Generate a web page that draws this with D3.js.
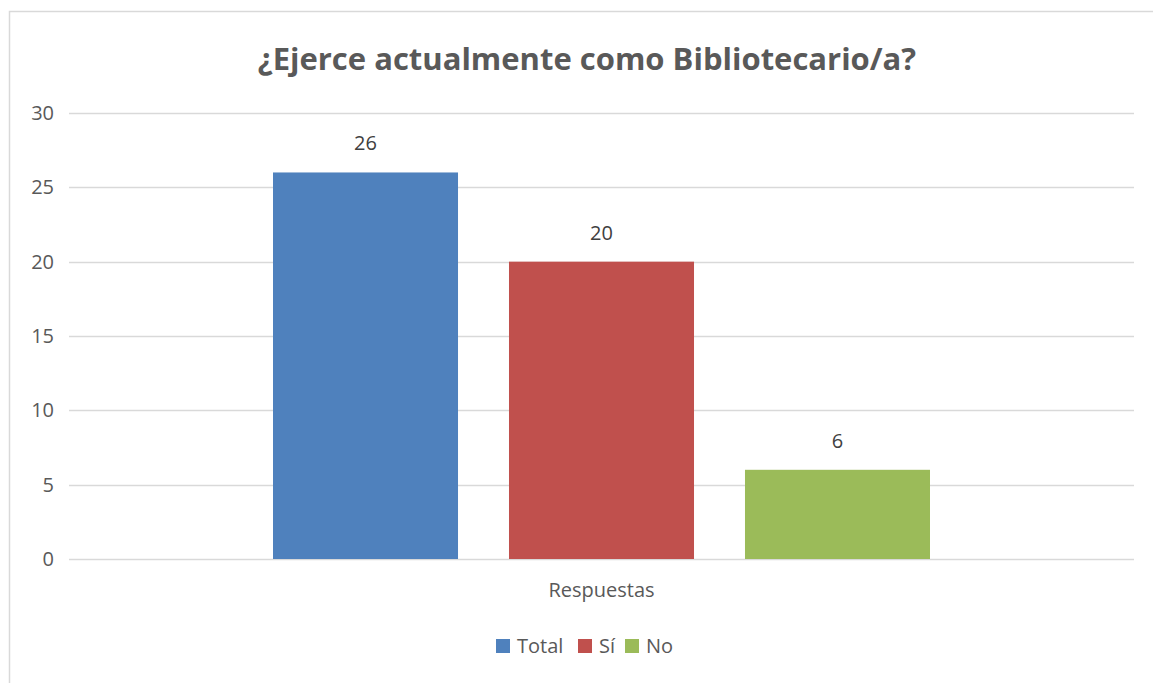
<!DOCTYPE html>
<html>
<head>
<meta charset="utf-8">
<script src="https://cdn.jsdelivr.net/npm/d3@7"></script>
<style>
  body { margin: 0; background: #fff; }
  svg { font-family: "Open Sans", "Noto Sans", sans-serif; }
</style>
</head>
<body>
<svg id="chart"></svg>
<script>
var categories = ["Respuestas"];
var seriesNames = ["Total", "Sí", "No"];
var seriesValues = [26, 20, 6];
var seriesColors = ["#4f81bd", "#c0504d", "#9bbb59"];
var yTicks = [0, 5, 10, 15, 20, 25, 30];

var width = 1153, height = 683;
var margin = { left: 69, right: 19, top: 113, bottom: 124 };

var svg = d3.select("#chart")
    .attr("width", width)
    .attr("height", height);

// chart frame
svg.append("rect")
    .attr("x", 9.5).attr("y", 11.5)
    .attr("width", 1160).attr("height", 700)
    .attr("fill", "none")
    .attr("stroke", "#d9d9d9")
    .attr("stroke-width", 1.5);

svg.append("text")
    .attr("x", 587).attr("y", 70)
    .attr("text-anchor", "middle")
    .attr("font-size", 31)
    .attr("font-weight", "bold")
    .attr("fill", "#595959")
    .text("¿Ejerce actualmente como Bibliotecario/a?");

var y = d3.scaleLinear()
    .domain([0, 30])
    .range([height - margin.bottom, margin.top]);

var x0 = d3.scaleBand()
    .domain(categories)
    .range([margin.left, width - margin.right])
    .paddingInner(0)
    .paddingOuter(0.3105);

var x1 = d3.scaleBand()
    .domain(seriesNames)
    .range([0, x0.bandwidth()])
    .paddingInner(0.216)
    .paddingOuter(0);

// gridlines
svg.append("g")
  .selectAll("line")
  .data(yTicks)
  .enter().append("line")
    .attr("x1", margin.left)
    .attr("x2", width - margin.right)
    .attr("y1", function(d) { return Math.round(y(d)) + 0.5; })
    .attr("y2", function(d) { return Math.round(y(d)) + 0.5; })
    .attr("stroke", "#d9d9d9")
    .attr("stroke-width", 1.5);

// y axis labels
svg.append("g")
  .selectAll("text")
  .data(yTicks)
  .enter().append("text")
    .attr("x", 54)
    .attr("y", function(d) { return y(d); })
    .attr("dy", "0.35em")
    .attr("text-anchor", "end")
    .attr("font-size", 20)
    .attr("fill", "#595959")
    .text(function(d) { return d; });

var group = svg.selectAll(".cat")
    .data(categories)
  .enter().append("g")
    .attr("class", "cat")
    .attr("transform", function(d) { return "translate(" + x0(d) + ",0)"; });

group.selectAll("rect")
    .data(seriesNames.map(function(s, i) { return { name: s, value: seriesValues[i], color: seriesColors[i] }; }))
  .enter().append("rect")
    .attr("x", function(d) { return x1(d.name); })
    .attr("y", function(d) { return y(d.value); })
    .attr("width", x1.bandwidth())
    .attr("height", function(d) { return y(0) - y(d.value); })
    .attr("fill", function(d) { return d.color; });

group.selectAll(".lbl")
    .data(seriesNames.map(function(s, i) { return { name: s, value: seriesValues[i] }; }))
  .enter().append("text")
    .attr("class", "lbl")
    .attr("x", function(d) { return x1(d.name) + x1.bandwidth() / 2; })
    .attr("y", function(d) { return y(d.value) - 22; })
    .attr("text-anchor", "middle")
    .attr("font-size", 20)
    .attr("fill", "#404040")
    .text(function(d) { return d.value; });

// category label
svg.append("g")
  .selectAll("text")
  .data(categories)
  .enter().append("text")
    .attr("x", function(d) { return x0(d) + x0.bandwidth() / 2; })
    .attr("y", 597)
    .attr("text-anchor", "middle")
    .attr("font-size", 20)
    .attr("fill", "#595959")
    .text(function(d) { return d; });

// legend
var legendX = [496, 578, 625];
var legend = svg.append("g")
  .selectAll("g")
  .data(seriesNames)
  .enter().append("g")
    .attr("transform", function(d, i) { return "translate(" + legendX[i] + ",639)"; });

legend.append("rect")
    .attr("width", 14).attr("height", 14)
    .attr("fill", function(d, i) { return seriesColors[i]; });

legend.append("text")
    .attr("x", 21)
    .attr("y", 7)
    .attr("dy", "0.35em")
    .attr("font-size", 20)
    .attr("fill", "#595959")
    .text(function(d) { return d; });
</script>
</body>
</html>
